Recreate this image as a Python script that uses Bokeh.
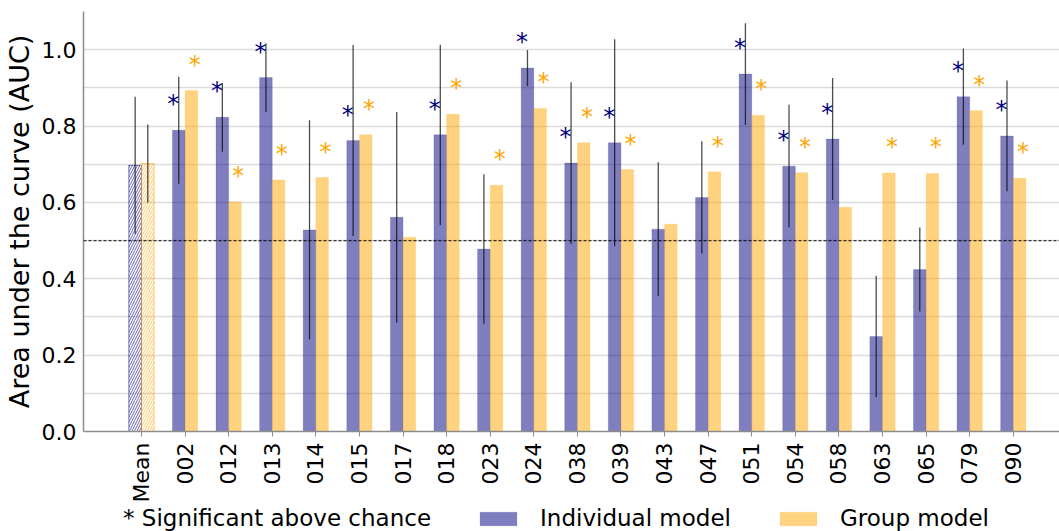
import numpy as np
from bokeh.plotting import figure
from bokeh.layouts import column
from bokeh.models import (FixedTicker, Span, Legend, LegendItem, Range1d,
                          PrintfTickFormatter)
from bokeh.core.properties import value
from bokeh.embed import file_html
from bokeh.resources import INLINE

# ---------------- data ----------------
categories = ["Mean", "002", "012", "013", "014", "015", "017", "018", "023", "024",
              "038", "039", "043", "047", "051", "054", "058", "063", "065", "079", "090"]
indiv_auc = [0.697, 0.789, 0.823, 0.927, 0.528, 0.762, 0.561, 0.777, 0.478, 0.952,
             0.703, 0.756, 0.530, 0.613, 0.936, 0.695, 0.766, 0.249, 0.424, 0.877, 0.774]
group_auc = [0.702, 0.893, 0.602, 0.659, 0.665, 0.777, 0.509, 0.831, 0.645, 0.846,
             0.756, 0.686, 0.543, 0.680, 0.828, 0.678, 0.587, 0.677, 0.676, 0.840, 0.663]
indiv_sd = [0.180, 0.140, 0.090, 0.090, 0.287, 0.250, 0.276, 0.236, 0.196, 0.047,
            0.212, 0.271, 0.175, 0.147, 0.133, 0.161, 0.160, 0.159, 0.110, 0.126, 0.145]
group_mean_sd = [0.102]
indiv_sig = [0, 1, 1, 1, 0, 1, 0, 1, 0, 1, 1, 1, 0, 0, 1, 1, 1, 0, 0, 1, 1]
group_sig = [0, 1, 1, 1, 1, 1, 0, 1, 1, 1, 1, 1, 0, 1, 1, 1, 0, 1, 1, 1, 1]
chance_level = 0.5
y_ticks = [0.0, 0.2, 0.4, 0.6, 0.8, 1.0]
grid_ticks = [0.1, 0.2, 0.3, 0.4, 0.5, 0.6, 0.7, 0.8, 0.9, 1.0]
legend_labels = ["* Significant above chance", "Individual model", "Group model"]

# ---------------- style ----------------
FONT = "DejaVu Sans"
W = 0.29
IND = "navy"
GRP = "orange"

idx = np.arange(len(categories), dtype=float)
ind_x = idx - W / 2
grp_x = idx + W / 2
ind = np.array(indiv_auc)
grp = np.array(group_auc)
sd = np.array(indiv_sd)

p = figure(width=1059, height=505, x_range=Range1d(-1.33, 21.06), y_range=Range1d(0, 1.1),
           output_backend="svg", toolbar_location=None,
           min_border_left=83, min_border_right=0, min_border_top=11, min_border_bottom=70)
p.outline_line_color = None
p.background_fill_color = "white"

# grid
p.xgrid.visible = False
p.ygrid.ticker = FixedTicker(ticks=grid_ticks)
p.ygrid.grid_line_color = "#dcdcdc"
p.ygrid.grid_line_width = 1.5

# regular bars
p.vbar(x=ind_x[1:], top=ind[1:], width=W, fill_color=IND, fill_alpha=0.5,
       line_color=IND, line_alpha=0.15)
p.vbar(x=grp_x[1:], top=grp[1:], width=W, fill_color=GRP, fill_alpha=0.5,
       line_color=GRP, line_alpha=0.15)

# hatched mean bars
p.vbar(x=ind_x[:1], top=ind[:1], width=W, fill_alpha=0, line_color=IND, line_alpha=0.5,
       hatch_pattern="right_diagonal_line", hatch_color=IND, hatch_alpha=0.6,
       hatch_scale=5, hatch_weight=1)
p.vbar(x=grp_x[:1], top=grp[:1], width=W, fill_alpha=0, line_color=GRP, line_alpha=0.5,
       hatch_pattern="right_diagonal_line", hatch_color=GRP, hatch_alpha=0.6,
       hatch_scale=5, hatch_weight=1)

# error bars
p.segment(x0=ind_x, y0=ind - sd, x1=ind_x, y1=ind + sd, line_color="black",
          line_alpha=0.7, line_width=1.3)
gsd = np.array(group_mean_sd)
p.segment(x0=grp_x[:1], y0=grp[:1] - gsd, x1=grp_x[:1], y1=grp[:1] + gsd,
          line_color="black", line_alpha=0.7, line_width=1.3)

# chance line
p.add_layout(Span(location=chance_level, dimension="width", line_color="black",
                  line_alpha=0.75, line_dash="3 2", line_width=1.2))

# significance stars
isig = np.array(indiv_sig, dtype=bool)
gsig = np.array(group_sig, dtype=bool)
p.text(x=(idx - 0.27)[isig], y=ind[isig], text=["*"] * int(isig.sum()), y_offset=-26,
       text_font=value(FONT), text_font_size="24px", text_align="center",
       text_baseline="alphabetic", text_color=IND)
p.text(x=(idx + 0.22)[gsig], y=grp[gsig], text=["*"] * int(gsig.sum()), y_offset=-26,
       text_font=value(FONT), text_font_size="24px", text_align="center",
       text_baseline="alphabetic", text_color=GRP)

# axes
for ax in (p.xaxis[0], p.yaxis[0]):
    ax.axis_line_color = "#8c8c8c"
    ax.axis_line_width = 1.5
    ax.major_tick_line_color = "#8c8c8c"
    ax.minor_tick_line_color = None
    ax.major_label_text_font = FONT
    ax.major_label_text_font_size = "22px"
    ax.major_label_text_color = "black"

p.yaxis.ticker = FixedTicker(ticks=y_ticks)
p.yaxis.formatter = PrintfTickFormatter(format="%.1f")
p.yaxis.major_tick_out = 0
p.yaxis.major_tick_in = 0
p.yaxis.axis_label = "Area under the curve (AUC)"
p.yaxis.axis_label_text_font = FONT
p.yaxis.axis_label_text_font_size = "27px"
p.yaxis.axis_label_text_font_style = "normal"
p.yaxis.axis_label_text_color = "black"
p.yaxis.axis_label_standoff = 4
p.yaxis.major_label_standoff = 7

p.xaxis.ticker = FixedTicker(ticks=list(range(len(categories))))
p.xaxis.major_label_overrides = {i: c for i, c in enumerate(categories)}
p.xaxis.major_label_orientation = np.pi / 2
p.xaxis.major_tick_out = 5
p.xaxis.major_tick_in = 0
p.xaxis.major_label_standoff = 6

# legend strip (separate small figure below the chart)
lf = figure(width=1059, height=26, x_range=Range1d(0, 1), y_range=Range1d(0, 1),
            output_backend="svg", toolbar_location=None, min_border=0)
lf.axis.visible = False
lf.grid.visible = False
lf.outline_line_color = None
# proxy renderers placed outside the visible range; only their legend swatches show
r_blank = lf.vbar(x=[5], top=[1], width=0.1, fill_alpha=0, line_alpha=0)
r_ind = lf.vbar(x=[5], top=[1], width=0.1, fill_color=IND, fill_alpha=0.5,
                line_color=IND, line_alpha=0.15)
r_grp = lf.vbar(x=[5], top=[1], width=0.1, fill_color=GRP, fill_alpha=0.5,
                line_color=GRP, line_alpha=0.15)
legend = Legend(items=[LegendItem(label=legend_labels[0], renderers=[r_blank]),
                       LegendItem(label=legend_labels[1], renderers=[r_ind]),
                       LegendItem(label=legend_labels[2], renderers=[r_grp])],
                orientation="horizontal", location=(-25, 0),
                label_text_font=FONT, label_text_font_size="23px", label_text_color="black",
                glyph_width=46, glyph_height=17, label_standoff=19, spacing=44,
                border_line_color=None, background_fill_alpha=0, padding=0, margin=0)
lf.add_layout(legend, "center")

layout = column(p, lf, spacing=0)
open("out.html", "w").write(file_html(layout, INLINE))
